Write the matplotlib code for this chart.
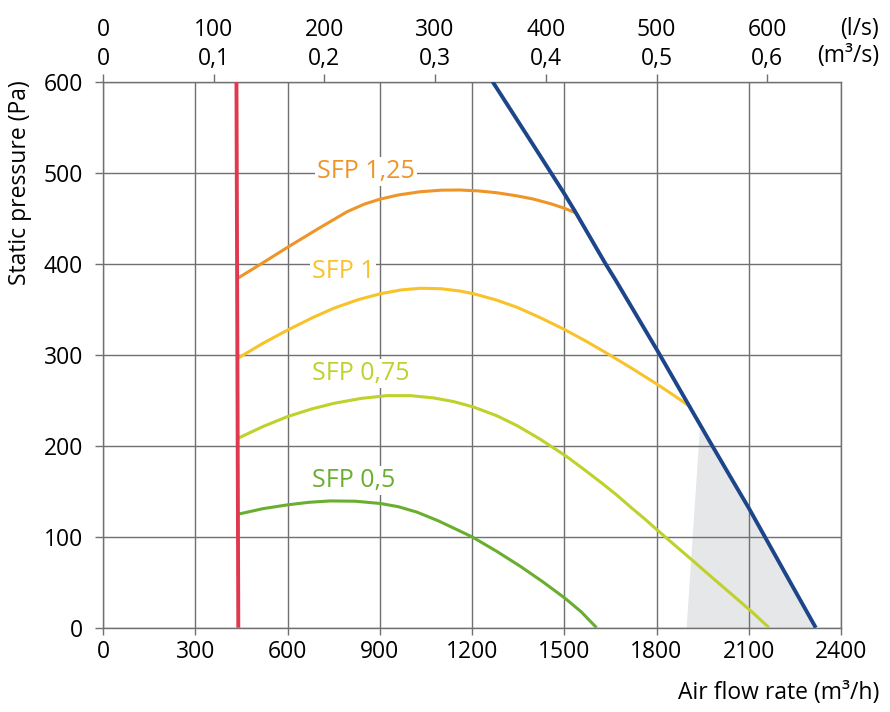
import matplotlib
matplotlib.use("Agg")
import matplotlib.pyplot as plt

plt.rcParams['font.family'] = ['Open Sans', 'DejaVu Sans']

# ---- data (air flow m3/h, static pressure Pa) ----
red_x = [434, 440]
red_y = [600, 0]

blue_x = [1267, 1400, 1502, 1536, 1634, 1667, 1802, 1911, 1976, 2040, 2101, 2149, 2230, 2318]
blue_y = [600, 530, 476, 457, 400, 382, 305, 241, 203, 166, 131, 102, 53, 0]

sfp125_x = [438, 520, 600, 700, 793, 850, 902, 960, 1030, 1100, 1160, 1220, 1280, 1347, 1400, 1455, 1500, 1536]
sfp125_y = [384, 401, 418, 438.5, 457, 465.5, 471, 475.5, 479, 480.8, 481, 480, 478, 474.5, 471, 466, 461, 456]

sfp1_x = [438, 520, 600, 680, 750, 830, 902, 970, 1032, 1100, 1160, 1205, 1280, 1347, 1420, 1502, 1570, 1634, 1720, 1802, 1860, 1911]
sfp1_y = [296, 312.5, 327, 340.5, 351, 360.5, 367, 371.2, 373, 372.5, 370, 367, 360, 352, 341, 327.5, 315, 302.5, 285, 267.5, 254.5, 242.5]

sfp075_x = [438, 520, 600, 680, 750, 840, 923, 1000, 1075, 1140, 1205, 1280, 1347, 1420, 1504, 1560, 1618, 1670, 1716, 1760, 1802, 1860, 1922, 1990, 2052, 2110, 2166]
sfp075_y = [208, 221, 232, 240.5, 246.5, 252, 255, 255, 252.5, 248.5, 242.5, 233, 222, 207.5, 189, 175, 160, 146, 132.5, 120, 107.5, 90.5, 72.5, 52.5, 34.5, 17.5, 0]

sfp05_x = [443, 520, 600, 670, 739, 820, 902, 960, 1021, 1090, 1162, 1202, 1280, 1357, 1430, 1502, 1555, 1605]
sfp05_y = [125, 130.8, 135, 137.8, 139.3, 139, 136.5, 133, 127, 117.5, 106, 99.5, 84, 67.5, 50.5, 32.5, 17.5, 0]

zone_x = [1898, 1941, 1976, 2040, 2101, 2149, 2230, 2318]
zone_y = [0, 218, 203, 166, 131, 102, 53, 0]

x_ticks = [0, 300, 600, 900, 1200, 1500, 1800, 2100, 2400]
y_ticks = [0, 100, 200, 300, 400, 500, 600]
top_ls = [0, 100, 200, 300, 400, 500, 600]
top_m3s = ["0", "0,1", "0,2", "0,3", "0,4", "0,5", "0,6"]

sfp_labels = ["SFP 1,25", "SFP 1", "SFP 0,75", "SFP 0,5"]
sfp_label_x = [697, 679, 679, 679]
sfp_label_y = [501, 391, 279, 162]

# ---- colours ----
c_red = "#e0394f"
c_blue = "#1d4589"
c_orange = "#ef9527"
c_yellow = "#f8c22a"
c_lime = "#bfd12b"
c_green = "#6aae2f"
c_grid = "#707070"
c_zone = "#e6e7e9"

W, H = 890, 712
fig = plt.figure(figsize=(W / 100, H / 100), dpi=100)
ax = fig.add_axes([103 / W, 1 - 627.7 / H, (841 - 103) / W, (627.7 - 81.7) / H])

ax.set_xlim(0, 2400)
ax.set_ylim(0, 600)

ax.fill(zone_x, zone_y, color=c_zone, lw=0, zorder=1)

ax.grid(True, color=c_grid, lw=1.0)
for s in ax.spines.values():
    s.set_color(c_grid)
    s.set_linewidth(1.0)

kw = dict(lw=2.2, zorder=3, solid_capstyle='butt', solid_joinstyle='round')
ax.plot(sfp125_x, sfp125_y, color=c_orange, **kw)
ax.plot(sfp1_x, sfp1_y, color=c_yellow, **kw)
ax.plot(sfp075_x, sfp075_y, color=c_lime, **kw)
ax.plot(sfp05_x, sfp05_y, color=c_green, **kw)
ax.plot(blue_x, blue_y, color=c_blue, lw=2.8, zorder=4, solid_capstyle='butt',
        solid_joinstyle='round')
ax.plot(red_x, red_y, color=c_red, lw=2.8, zorder=4, solid_capstyle='butt')

label_colors = [c_orange, c_yellow, c_lime, c_green]
for t, x, y, c in zip(sfp_labels, sfp_label_x, sfp_label_y, label_colors):
    ax.text(x, y, t, color=c, fontsize=18, ha='left', va='center', zorder=2.5,
            bbox=dict(facecolor='white', edgecolor='none', pad=1.5))

fs = 16.5
ax.set_xticks(x_ticks)
ax.set_xticklabels([str(v) for v in x_ticks])
ax.set_yticks(y_ticks)
ax.set_yticklabels([str(v) for v in y_ticks])
ax.tick_params(axis='x', direction='out', length=5, width=1.0, color=c_grid,
               labelsize=fs, pad=4)
ax.tick_params(axis='y', direction='out', length=5.5, width=1.0, color=c_grid,
               labelsize=fs, pad=9)

sec = ax.secondary_xaxis('top', functions=(lambda v: v / 3.6, lambda v: v * 3.6))
sec.set_xticks(top_ls)
sec.set_xticklabels([f"{a}\n{b}" for a, b in zip(top_ls, top_m3s)])
sec.tick_params(axis='x', direction='out', length=5.5, width=1.0, color=c_grid,
                labelsize=fs, pad=2.5)
for lab in sec.get_xticklabels():
    lab.set_linespacing(1.25)
sec.spines['top'].set_visible(False)

fig.text(879 / W, 1 - 29 / H, "(l/s)", fontsize=fs, ha='right', va='center')
fig.text(879 / W, 1 - 56 / H, "(m³/s)", fontsize=fs, ha='right', va='center')

fig.text(20 / W, 1 - 183 / H, "Static pressure (Pa)", fontsize=fs, rotation=90,
         ha='center', va='center')
fig.text(879 / W, 1 - 693 / H, "Air flow rate (m³/h)", fontsize=fs,
         ha='right', va='center')

fig.savefig("out.png", dpi=100)
